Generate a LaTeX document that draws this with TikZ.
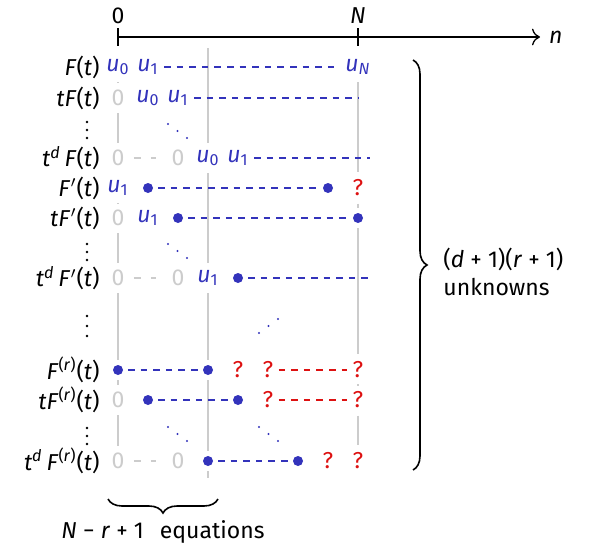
\documentclass[tikz,border=0pt]{standalone}
\usepackage{fontspec}
\setmainfont{Fira Sans}
\usetikzlibrary{positioning,calc,arrows.meta,decorations.pathreplacing}
\definecolor{ublue}{RGB}{51,51,187}
\definecolor{qred}{RGB}{221,17,17}
\definecolor{zgray}{RGB}{204,204,204}
\newcommand{\vi}[1]{\textit{#1}}
\newcommand{\vu}[1]{\textit{u}\textsubscript{#1}}
\newcommand{\vp}{\kern0.3pt$'$}
\tikzset{
  figfont/.style={font=\fontsize{11.5}{14}\selectfont},
  cell/.style={inner xsep=2.5pt, inner ysep=3.5pt},
  ucell/.style={cell, text=ublue},
  zcell/.style={cell, text=zgray},
  qcell/.style={cell, text=qred},
  ucdot/.style={circle, fill=ublue, inner sep=0pt, minimum size=5pt, outer sep=2.5pt},
  rowlab/.style={anchor=east, inner sep=0pt},
  udash/.style={draw=ublue, line width=0.9pt, dash pattern=on 3.3pt off 3pt},
  qdash/.style={udash, draw=qred},
  zdash/.style={draw=zgray, line width=0.9pt, dash pattern=on 3.5pt off 5pt,
    shorten <=2pt, shorten >=5pt},
  zrule/.style={draw=zgray, line width=1pt},
  bracestyle/.style={decorate, decoration={brace, amplitude=7pt}, line width=0.8pt},
}

\begin{document}
\begin{tikzpicture}[x=0.5pt, y=-0.5pt, figfont]
  \useasboundingbox (0,0) rectangle (589,546);

  % Axis n with ticks at 0 and N
  \coordinate (ax0) at (118,37);
  \coordinate (ax1) at (148,37);
  \coordinate (axN) at (358,37);
  \coordinate (axend) at (540,37);
  \draw[line width=0.65pt, -{To[length=4pt]}] (ax0) -- (axend);
  \draw[line width=1pt] (ax1) -- (axN);
  \draw[line width=0.9pt] (118,28) -- (118,46);
  \draw[line width=0.9pt] (358,28) -- (358,46);
  \node (lbl0) at (118,16) {0};
  \node (lblN) at (358,16) {\vi{N}};
  \node[right=1pt of axend] (lbln) {\vi{n}};

  % Row labels
  \node[rowlab] (lab1) at (100,67) {\vi{F}(\vi{t})};
  \node[rowlab] (lab2) at (100,98) {\vi{tF}(\vi{t})};
  \node[rowlab] (lab4) at (100,158) {\vi{t}\textsuperscript{\vi{d}}\,\vi{F}(\vi{t})};
  \node[rowlab] (lab5) at (100,188) {\vi{F}\vp(\vi{t})};
  \node[rowlab] (lab6) at (100,218) {\vi{tF}\vp(\vi{t})};
  \node[rowlab] (lab8) at (100,278) {\vi{t}\textsuperscript{\vi{d}}\,\vi{F}\vp(\vi{t})};
  \node[rowlab] (lab10) at (100,370) {\vi{F}\textsuperscript{(\vi{r})}(\vi{t})};
  \node[rowlab] (lab11) at (100,400) {\vi{tF}\textsuperscript{(\vi{r})}(\vi{t})};
  \node[rowlab] (lab13) at (100,461) {\vi{t}\textsuperscript{\vi{d}}\,\vi{F}\textsuperscript{(\vi{r})}(\vi{t})};
  \foreach \y in {122,244,428}
    \foreach \k in {0,1,2}
      \fill ({87},{\y+8*\k}) circle (0.65pt);
  \foreach \k in {0,1,2}
    \fill (87,{316+10*\k}) circle (0.65pt);

  % Cells
  \node[ucell] (r1c0) at (118,67) {\vu{0}};
  \node[ucell] (r1c1) at (148,67) {\vu{1}};
  \node[ucell] (r1c8) at (358,67) {\vu{\vi{N}}};

  \node[zcell] (r2c0) at (118,98) {0};
  \node[ucell] (r2c1) at (148,98) {\vu{0}};
  \node[ucell] (r2c2) at (178,98) {\vu{1}};
  \coordinate (r2end) at (358,98);

  \node[zcell] (r4c0) at (118,158) {0};
  \node[zcell] (r4c2) at (178,158) {0};
  \node[ucell] (r4c3) at (208,158) {\vu{0}};
  \node[ucell] (r4c4) at (238,158) {\vu{1}};
  \coordinate (r4end) at (370,158);

  \node[ucell] (r5c0) at (118,188) {\vu{1}};
  \node[ucdot] (r5c1) at (148,188) {};
  \node[ucdot] (r5c7) at (328,188) {};
  \node[qcell] (r5c8) at (358,188) {?};

  \node[zcell] (r6c0) at (118,218) {0};
  \node[ucell] (r6c1) at (148,218) {\vu{1}};
  \node[ucdot] (r6c2) at (178,218) {};
  \node[ucdot] (r6c8) at (358,218) {};

  \node[zcell] (r8c0) at (118,278) {0};
  \node[zcell] (r8c2) at (178,278) {0};
  \node[ucell] (r8c3) at (208,278) {\vu{1}};
  \node[ucdot] (r8c4) at (238,278) {};
  \coordinate (r8end) at (370,278);

  \node[ucdot] (r10c0) at (118,370) {};
  \node[ucdot] (r10c3) at (208,370) {};
  \node[qcell] (r10c4) at (238,370) {?};
  \node[qcell] (r10c5) at (268,370) {?};
  \node[qcell] (r10c8) at (358,370) {?};

  \node[zcell] (r11c0) at (118,400) {0};
  \node[ucdot] (r11c1) at (148,400) {};
  \node[ucdot] (r11c4) at (238,400) {};
  \node[qcell] (r11c5) at (268,400) {?};
  \node[qcell] (r11c8) at (358,400) {?};

  \node[zcell] (r13c0) at (118,461) {0};
  \node[zcell] (r13c2) at (178,461) {0};
  \node[ucdot] (r13c3) at (208,461) {};
  \node[ucdot] (r13c6) at (298,461) {};
  \node[qcell] (r13c7) at (328,461) {?};
  \node[qcell] (r13c8) at (358,461) {?};

  % Gray column rules
  \coordinate (c3top) at (208,48);
  \coordinate (c3bot) at (208,478);
  \draw[zrule] (r1c0) -- (r2c0) -- (r4c0);
  \draw[zrule] (r5c0) -- (r6c0) -- (r8c0) -- (r10c0) -- (r11c0) -- (r13c0);
  \draw[zrule] (c3top) -- (r4c3) -- (r8c3) -- (r10c3) -- (r13c3) -- (c3bot);
  \draw[zrule] (r1c8) -- (r5c8) -- (r6c8) -- (r10c8) -- (r11c8) -- (r13c8);

  % Dashed runs
  \draw[udash] (r1c1) -- (r1c8);
  \draw[udash] (r2c2) -- (r2end);
  \draw[udash] (r4c4) -- (r4end);
  \draw[udash] (r5c1) -- (r5c7);
  \draw[udash] (r6c2) -- (r6c8);
  \draw[udash] (r8c4) -- (r8end);
  \draw[udash] (r10c0) -- (r10c3);
  \draw[udash] (r11c1) -- (r11c4);
  \draw[udash] (r13c3) -- (r13c6);
  \draw[qdash] (r10c5) -- (r10c8);
  \draw[qdash] (r11c5) -- (r11c8);
  \draw[zdash] (r4c0) -- (r4c2);
  \draw[zdash] (r8c0) -- (r8c2);
  \draw[zdash] (r13c0) -- (r13c2);

  % Diagonal dots
  \foreach \x/\y in {168/124, 168/244, 168/427, 259/427}
    \foreach \k in {0,1,2}
      \fill[ublue] ({\x+9.5*\k},{\y+7*\k}) circle (0.55pt);
  \foreach \k in {0,1,2}
    \fill[ublue] ({259+9.5*\k},{333-7*\k}) circle (0.55pt);

  % Braces
  \coordinate (bra) at (413,60);
  \coordinate (brb) at (413,470);
  \draw[bracestyle] (bra) -- (brb);
  \node[anchor=west, align=left, inner sep=0pt] (unk) at (443,272)
    {(\vi{d} + 1)(\vi{r} + 1)\\unknowns};
  \coordinate (bbl) at (108,499);
  \coordinate (bbr) at (218,499);
  \draw[bracestyle, decoration={mirror}] (bbl) -- (bbr);
  \node[inner sep=0pt] (eqn) at (163,532) {\vi{N} − \vi{r} + 1\hspace{0.7em}equations};
\end{tikzpicture}
\end{document}
